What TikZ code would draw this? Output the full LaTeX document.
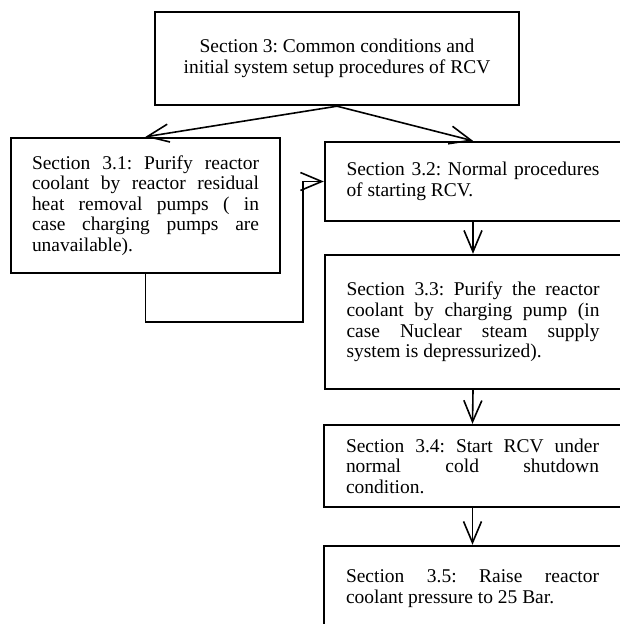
\documentclass[tikz,border=0pt]{standalone}
\usepackage{fontspec}
\setmainfont{Liberation Serif}
\usetikzlibrary{arrows.meta}
\begin{document}
\frenchspacing
\begin{tikzpicture}[x=0.75pt,y=-0.75pt,
  txt/.style={font=\fontsize{14.6pt}{15.4pt}\selectfont\frenchspacing},
  box/.style={txt, draw, line width=1.8pt, inner sep=0pt, align=justify},
  topbox/.style={txt, draw, line width=1.8pt, inner sep=0pt, align=center},
  arr/.style={line width=1.2pt, -{Straight Barb[length=16pt,width=13.5pt,line width=1.2pt]}}]
\useasboundingbox (0,0) rectangle (619,624);

\node[topbox, minimum width=273pt, minimum height=69.75pt] (top) at (337,58.5)
  {Section 3: Common conditions and\\initial system setup procedures of RCV};

\node[box, text width=170.25pt, minimum width=201.75pt, minimum height=101.25pt] (s31) at (145.5,205.5)
  {Section 3.1: Purify reactor\linebreak coolant by reactor residual\linebreak heat removal pumps ( in\linebreak case charging pumps are\linebreak unavailable).};

\node[box, text width=189.75pt, minimum width=222pt, minimum height=59.25pt] (s32) at (473,181.5)
  {Section 3.2: Normal procedures\linebreak of starting RCV.};

\node[box, text width=189.75pt, minimum width=222pt, minimum height=100.5pt] (s33) at (473,322)
  {Section 3.3: Purify the reactor\linebreak coolant by charging pump (in\linebreak case Nuclear steam supply\linebreak system is depressurized).};

\node[box, text width=189.75pt, minimum width=222.75pt, minimum height=61.5pt] (s34) at (472.5,466)
  {Section 3.4: Start RCV under\linebreak normal cold shutdown\linebreak condition.};

\node[box, text width=189.75pt, minimum width=222.75pt, minimum height=63.75pt] (s35) at (472.5,588.5)
  {Section 3.5: Raise reactor\linebreak coolant pressure to 25 Bar.};

\coordinate (e1) at (303,322);

\draw[arr] (top.south) -- (s31.north);
\draw[arr] (top.south) -- (s32.north);
\draw[arr] (s31.south) |- (e1) |- (s32.west);
\draw[arr] (s32.south) -- (s33.north);
\draw[arr] (s33.south) -- (s34.north);
\draw[arr] (s34.south) -- (s35.north);
\end{tikzpicture}
\end{document}
